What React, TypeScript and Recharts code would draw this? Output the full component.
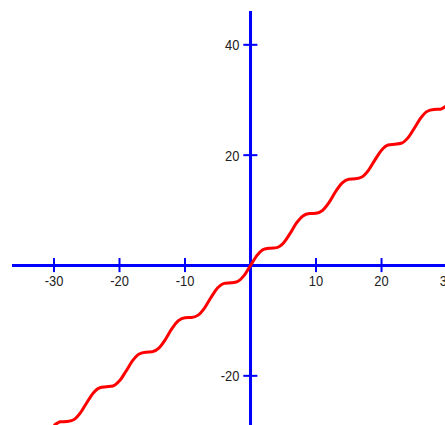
import React from "react";
import { LineChart, Line, XAxis, YAxis, ReferenceLine, Label } from "recharts";

const xValues = [
  -30, -29, -28, -27, -26, -25, -24, -23, -22, -21, -20, -19, -18, -17, -16, -15,
  -14, -13, -12, -11, -10, -9, -8, -7, -6, -5, -4, -3, -2, -1, 0,
  1, 2, 3, 4, 5, 6, 7, 8, 9, 10, 11, 12, 13, 14, 15,
  16, 17, 18, 19, 20, 21, 22, 23, 24, 25, 26, 27, 28, 29, 30,
];
const yValues = [
  -29.01, -28.34, -28.27, -27.96, -26.76, -24.87, -23.09, -22.15, -21.99, -21.84, -20.91,
  -19.15, -17.25, -16.04, -15.71, -15.65, -14.99, -13.42, -11.46, -10.0, -9.46, -9.41,
  -8.99, -7.66, -5.72, -4.04, -3.24, -3.14, -2.91, -1.84, 0,
  1.84, 2.91, 3.14, 3.24, 4.04, 5.72, 7.66, 8.99, 9.41, 9.46, 10.0, 11.46, 13.42, 14.99,
  15.65, 15.71, 16.04, 17.25, 19.15, 20.91, 21.84, 21.99, 22.15, 23.09, 24.87, 26.76,
  27.96, 28.27, 28.34, 29.01,
];
const xTickLabels = [-30, -20, -10, 10, 20, 30];
const yTickLabels = [40, 20, -20];

const data = xValues.map((x, i) => ({ x, y: yValues[i] }));

const AXIS = "#0000ff";
const FONT = "'Liberation Sans', Arial, sans-serif";

function XTickText(props: any) {
  const vb = props.viewBox || {};
  const cx = vb.x + (vb.width || 0) / 2;
  const baseline = vb.y + (vb.height || 0) + 3.5 + 10.7;
  return (
    <text
      transform={`translate(${cx},${baseline}) scale(0.86,1)`}
      textAnchor="middle"
      fill="#222"
      fontSize={15}
      fontFamily={FONT}
    >
      {props.value}
    </text>
  );
}

function YTickText(props: any) {
  const vb = props.viewBox || {};
  const right = vb.x - 4;
  const baseline = vb.y + (vb.height || 0) / 2 + 5.4;
  return (
    <text
      transform={`translate(${right},${baseline}) scale(0.86,1)`}
      textAnchor="end"
      fill="#222"
      fontSize={15}
      fontFamily={FONT}
    >
      {props.value}
    </text>
  );
}

export default function App() {
  return (
    <div style={{ position: "absolute", left: 0, top: 0 }}>
      <LineChart
        width={445}
        height={425}
        data={data}
        margin={{ top: 11, left: 12, right: 0, bottom: 0 }}
      >
        <XAxis
          hide
          type="number"
          dataKey="x"
          domain={[-36.41, 29.69]}
          allowDataOverflow
        />
        <YAxis hide type="number" domain={[-28.91, 46.13]} allowDataOverflow />
        <ReferenceLine y={0} stroke={AXIS} strokeWidth={3} />
        <ReferenceLine x={0} stroke={AXIS} strokeWidth={3} />
        {xTickLabels.map((v) => (
          <ReferenceLine
            key={"xt" + v}
            ifOverflow="visible"
            stroke={AXIS}
            strokeWidth={2}
            segment={[
              { x: v, y: -1.2 },
              { x: v, y: 1.35 },
            ]}
          >
            <Label value={String(v)} content={<XTickText />} />
          </ReferenceLine>
        ))}
        {yTickLabels.map((v) => (
          <ReferenceLine
            key={"yt" + v}
            ifOverflow="visible"
            stroke={AXIS}
            strokeWidth={2}
            segment={[
              { x: -1.1, y: v },
              { x: 1.05, y: v },
            ]}
          >
            <Label value={String(v)} content={<YTickText />} />
          </ReferenceLine>
        ))}
        <Line
          type="monotone"
          dataKey="y"
          stroke="#ff0000"
          strokeWidth={3}
          dot={false}
          isAnimationActive={false}
        />
      </LineChart>
    </div>
  );
}
